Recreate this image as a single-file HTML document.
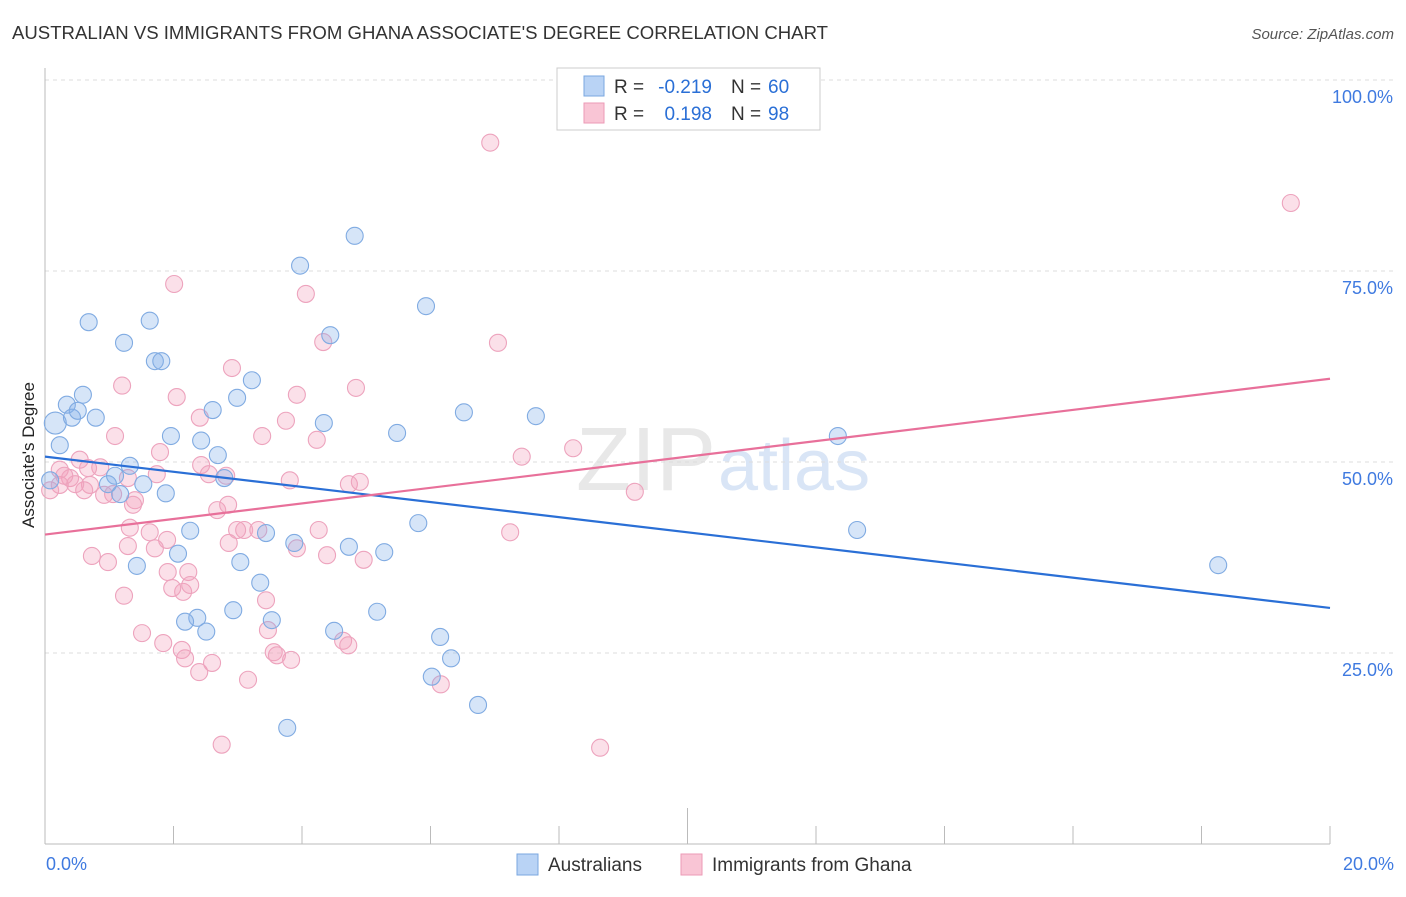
<!DOCTYPE html>
<html><head><meta charset="utf-8"><style>
body{margin:0;background:#fff;font-family:"Liberation Sans",sans-serif;}
svg text{font-family:"Liberation Sans",sans-serif;}
</style></head><body>
<svg id="chart" width="1406" height="892" xmlns="http://www.w3.org/2000/svg">
<text x="12" y="39" font-size="18" fill="#333" textLength="816" lengthAdjust="spacingAndGlyphs">AUSTRALIAN VS IMMIGRANTS FROM GHANA ASSOCIATE'S DEGREE CORRELATION CHART</text>
<text x="1394" y="39" font-size="15" fill="#555" font-style="italic" text-anchor="end">Source: ZipAtlas.com</text>
<text x="716" y="490" font-size="90" fill="#e8e8e8" text-anchor="end" font-family="Liberation Serif">ZIP</text>
<text x="718" y="490" font-size="72" fill="#d9e5f6">atlas</text>
<text transform="translate(34,455) rotate(-90)" font-size="17" fill="#222" text-anchor="middle">Associate's Degree</text>
<g id="grid"></g><g id="pts"></g><g id="lines"></g>
<g>
<rect x="557" y="68" width="263" height="62" fill="#fff" stroke="#ccc"/>
<rect x="584" y="76" width="20" height="20" fill="#b9d3f5" stroke="#7aa7e0"/>
<rect x="584" y="103" width="20" height="20" fill="#f9c5d5" stroke="#ec9ab6"/>
<text x="614" y="93" font-size="19" fill="#333">R =</text>
<text x="712" y="93" font-size="19" fill="#2a6fd6" text-anchor="end">-0.219</text>
<text x="731" y="93" font-size="19" fill="#333">N =</text>
<text x="768" y="93" font-size="19" fill="#2a6fd6">60</text>
<text x="614" y="120" font-size="19" fill="#333">R =</text>
<text x="712" y="120" font-size="19" fill="#2a6fd6" text-anchor="end">0.198</text>
<text x="731" y="120" font-size="19" fill="#333">N =</text>
<text x="768" y="120" font-size="19" fill="#2a6fd6">98</text>
</g>
<g>
<rect x="517" y="854" width="21" height="21" fill="#b9d3f5" stroke="#7aa7e0"/>
<text x="548" y="871" font-size="19" fill="#333">Australians</text>
<rect x="681" y="854" width="21" height="21" fill="#f9c5d5" stroke="#ec9ab6"/>
<text x="712" y="871" font-size="19" fill="#333">Immigrants from Ghana</text>
</g>
</svg>
<script>
const blueX=[0.16,0.23,0.34,0.42,0.51,0.59,0.68,0.79,1.23,1.63,1.71,1.81,1.32,1.09,0.98,1.17,1.53,1.88,1.96,2.43,2.61,2.69,2.79,2.99,3.22,3.97,4.82,4.44,4.34,5.93,5.48,6.52,7.64,12.34,12.64,18.26,5.81,5.28,4.73,3.88,3.44,3.04,3.35,2.26,2.07,1.43,2.37,2.18,2.51,2.93,3.53,4.50,5.17,6.15,6.32,6.02,6.74,3.77,0.08];
const blueY=[55.1,52.2,57.5,55.8,56.7,58.8,68.3,55.8,65.6,68.5,63.2,63.2,49.5,48.2,47.1,45.8,47.1,45.9,53.4,52.8,56.8,50.9,47.9,58.4,60.7,75.7,79.6,66.6,55.1,70.4,53.8,56.5,56.0,53.4,41.1,36.5,42.0,38.2,38.9,39.4,40.7,36.9,34.2,41.0,38.0,36.4,29.6,29.1,27.8,30.6,29.3,27.9,30.4,27.1,24.3,21.9,18.2,15.2,47.6];
const pinkX=[6.93,19.39,2.01,4.06,4.33,7.05,2.91,1.20,2.05,3.92,4.84,2.41,3.75,3.38,4.23,1.09,1.79,2.43,2.55,8.22,7.42,9.18,7.24,4.73,4.90,3.81,2.82,1.74,0.86,0.54,0.23,0.39,0.70,0.92,1.40,1.37,2.68,2.85,3.10,2.99,2.86,3.32,3.92,4.26,4.39,4.96,1.32,1.63,1.90,1.71,1.29,0.73,0.98,1.23,1.91,2.23,2.15,1.98,2.26,3.44,3.47,1.51,1.84,2.13,2.18,2.40,2.60,3.16,3.56,3.61,3.83,4.64,4.72,2.75,8.64,6.16,0.23,0.08,0.61,1.06,1.29,0.67,0.47,0.30];
const pinkY=[91.8,83.9,73.3,72.0,65.7,65.6,62.3,60.0,58.5,58.8,59.7,55.8,55.4,53.4,52.9,53.4,51.3,49.6,48.4,51.8,50.7,46.1,40.8,47.1,47.4,47.6,48.2,48.4,49.3,50.3,49.0,47.9,47.0,45.7,45.0,44.4,43.7,44.4,41.1,41.1,39.4,41.1,38.7,41.1,37.8,37.2,41.4,40.8,39.8,38.7,39.0,37.7,36.9,32.5,35.6,35.6,33.0,33.5,33.9,31.9,28.0,27.6,26.3,25.4,24.3,22.5,23.7,21.5,25.1,24.7,24.1,26.6,26.0,13.0,12.6,20.9,47.0,46.3,46.3,45.8,47.9,49.2,47.1,48.2];
const blueTrend=[50.7,30.9];
const pinkTrend=[40.5,60.9];
const yTicks=[100,75,50,25];
const xTickLabels=["0.0%","20.0%"];
const NS="http://www.w3.org/2000/svg";
const X0=45,X1=1330,YB=844,YT=80;
const sx=v=>X0+(v/20)*(X1-X0);
const sy=v=>YB-(v/100)*(YB-YT);
function mk(tag,attrs,parent){const e=document.createElementNS(NS,tag);for(const k in attrs)e.setAttribute(k,attrs[k]);parent.appendChild(e);return e;}
const grid=document.getElementById('grid');
yTicks.forEach(t=>{
 const l=mk('line',{x1:X0,x2:1394,y1:sy(t),y2:sy(t),stroke:'#ddd','stroke-dasharray':'4,4'},grid);
 
 
 const tx=mk('text',{x:1393,y:sy(t)+23,'font-size':18,fill:'#3f7ae0','text-anchor':'end'},grid);
 tx.textContent=t.toFixed(1)+'%';
 
 
});
const ax=mk('line',{x1:X0,x2:X0,y1:68,y2:YB,stroke:'#bbb'},grid);


const bx=mk('line',{x1:X0,x2:X1,y1:YB,y2:YB,stroke:'#bbb'},grid);


for(let i=1;i<=10;i++){
 const t=mk('line',{x1:sx(i*2),x2:sx(i*2),y1:(i==5?808:826),y2:YB,stroke:'#bbb'},grid);
 
 
}
[[0,'start',46],[20,'end',1394]].forEach((d,i)=>{
 const t=mk('text',{x:d[2],y:870,'font-size':18,fill:'#3f7ae0','text-anchor':d[1]},grid);
 t.textContent=xTickLabels[i];
 
 
});
const pts=document.getElementById('pts');
pinkX.forEach((x,i)=>{
 const c=mk('circle',{cx:sx(x),cy:sy(pinkY[i]),r:8.5,fill:'rgba(244,160,188,0.33)',stroke:'#eda3bd','stroke-width':1.1},pts);
 
 
});
blueX.forEach((x,i)=>{
 const c=mk('circle',{cx:sx(x),cy:sy(blueY[i]),r:(i<1?11:8.5),fill:'rgba(130,175,235,0.33)',stroke:'#80abe2','stroke-width':1.1},pts);
 
 
});
const lines=document.getElementById('lines');
const bl=mk('line',{x1:sx(0),y1:sy(blueTrend[0]),x2:sx(20),y2:sy(blueTrend[1]),stroke:'#2a6fd6','stroke-width':2.2},lines);


const pl=mk('line',{x1:sx(0),y1:sy(pinkTrend[0]),x2:sx(20),y2:sy(pinkTrend[1]),stroke:'#e8709a','stroke-width':2.2},lines);


</script>
</body></html>
